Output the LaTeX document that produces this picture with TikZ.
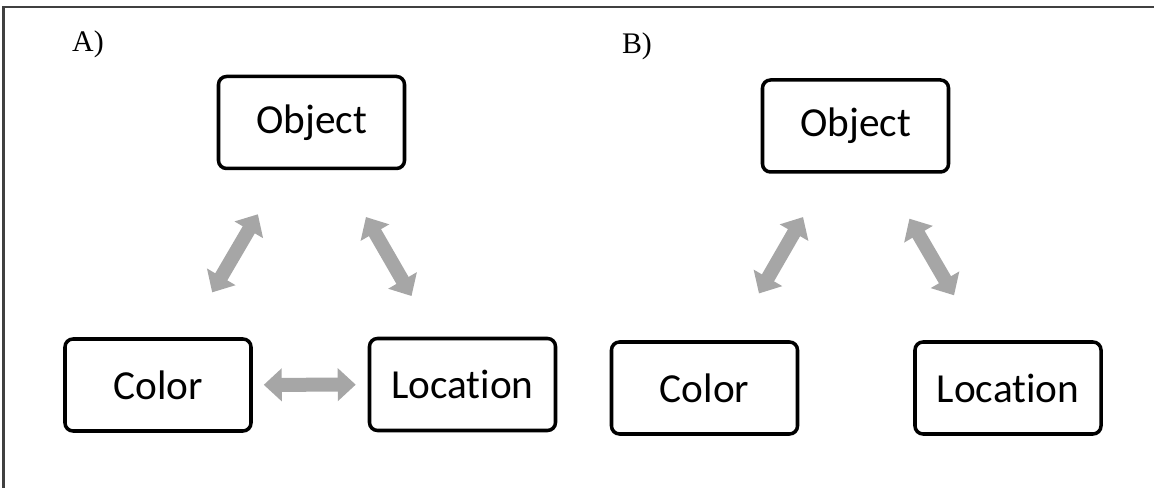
\documentclass[tikz,border=0pt]{standalone}
\usepackage{fontspec}
\setmainfont[Ligatures=NoCommon]{Carlito}
\newfontfamily\labelfont{Liberation Serif}
\usetikzlibrary{arrows.meta}

\begin{document}
\begin{tikzpicture}[
    box/.style={draw, line width=2pt, rounded corners=0.16cm,
      minimum width=3.72cm, minimum height=1.84cm,
      font=\fontsize{23.5}{28}\selectfont},
    panel/.style={font=\labelfont\fontsize{17}{20}\selectfont},
    link/.style={line width=0.28cm, color=black!35,
      {Triangle[width=0.64cm,length=0.36cm]}-{Triangle[width=0.64cm,length=0.36cm]}}
  ]
      \useasboundingbox (0,0) rectangle (23.08,9.76);
      % frame, only top and left visible
      \draw[line width=1.4pt, color=black!75] (0.07,0) -- (0.07,9.62) -- (23.08,9.62);
      % panel A
      \node[panel] (labA) at (1.76,8.88) {A)};
      \node[box] (objA) at (6.23,7.31) {Object};
      \node[box] (colA) at (3.16,2.06) {Color};
      \node[box] (locA) at (9.25,2.07) {Location};
      \draw[link, shorten <=1.04cm, shorten >=1.02cm] (colA) -- (objA);
      \draw[link, shorten <=0.94cm, shorten >=1.08cm] (locA) -- (objA);
      \draw[link, shorten <=0.22cm, shorten >=0.24cm] (colA) -- (locA);
      % panel B
      \node[panel] (labB) at (12.74,8.84) {B)};
      \node[box] (objB) at (17.11,7.24) {Object};
      \node[box] (colB) at (14.09,2.00) {Color};
      \node[box] (locB) at (20.16,2.00) {Location};
      \draw[link, shorten <=1.08cm, shorten >=1.0cm] (colB) -- (objB);
      \draw[link, shorten <=1.04cm, shorten >=1.04cm] (locB) -- (objB);
    \end{tikzpicture}
\end{document}
